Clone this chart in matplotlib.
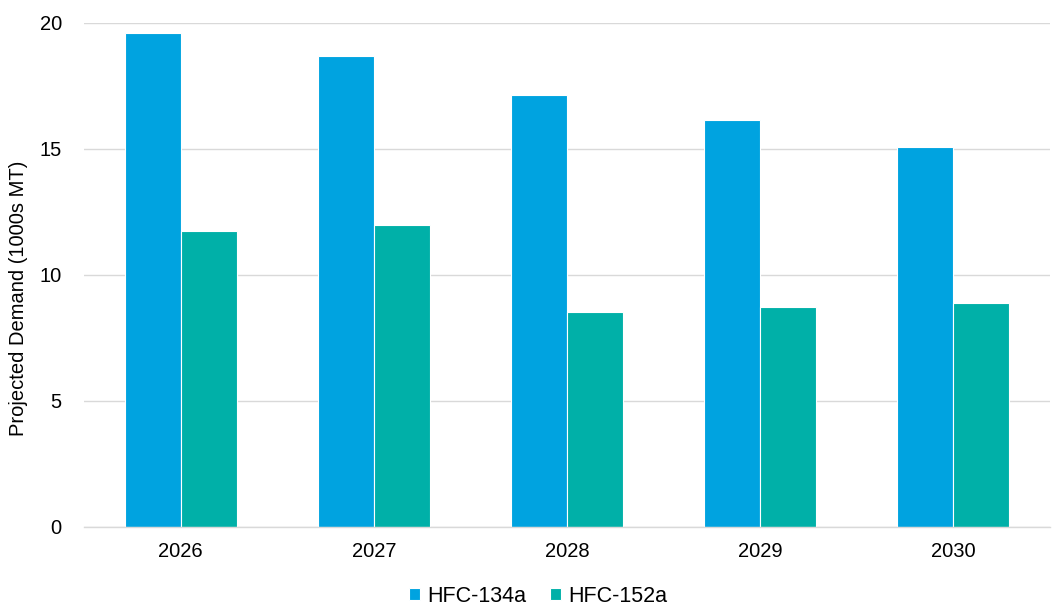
import matplotlib
matplotlib.use("Agg")
import matplotlib.pyplot as plt
import numpy as np

years = ["2026", "2027", "2028", "2029", "2030"]
hfc134a = [19.6, 18.7, 17.15, 16.15, 15.08]
hfc152a = [11.75, 11.98, 8.53, 8.73, 8.9]
series_names = ["HFC-134a", "HFC-152a"]
colors = ["#00A3E0", "#00B0A8"]

plt.rcParams['font.family'] = ['Liberation Sans', 'DejaVu Sans']

fig = plt.figure(figsize=(10.55, 6.07), dpi=100)
ax = fig.add_axes([84/1055, 1-527/607, (1050-84)/1055, (527-23)/607])

x = np.arange(len(years))
w = 0.29
ax.bar(x - w/2, hfc134a, w, color=colors[0], edgecolor="white", linewidth=0.8, label=series_names[0], zorder=3)
ax.bar(x + w/2, hfc152a, w, color=colors[1], edgecolor="white", linewidth=0.8, label=series_names[1], zorder=3)

ax.set_xlim(-0.5, len(years) - 0.5)
ax.set_ylim(0, 20)
ax.set_yticks([0, 5, 10, 15, 20])
ax.set_xticks(x)
ax.set_xticklabels(years)
ax.tick_params(axis='both', length=0, labelsize=14.5, colors="#000000")
ax.tick_params(axis='y', pad=16)
ax.tick_params(axis='x', pad=11)
ax.grid(axis='y', color="#D9D9D9", linewidth=1, zorder=0)
for s in ["top", "right", "left"]:
    ax.spines[s].set_visible(False)
ax.spines["bottom"].set_color("#D9D9D9")
ax.spines["bottom"].set_linewidth(1)
ax.spines["bottom"].set_zorder(4)

fig.text(19/1055, 1-298/607, "Projected Demand (1000s MT)", rotation=90,
         ha="center", va="center", fontsize=14.5)

fig.legend(loc="center", bbox_to_anchor=(538/1055, 1-596/607), ncol=2, frameon=False,
           fontsize=15.5, handlelength=0.5, handleheight=0.5, handletextpad=0.35, columnspacing=1.1,
           borderpad=0.1)

fig.savefig("out.png", dpi=100)
